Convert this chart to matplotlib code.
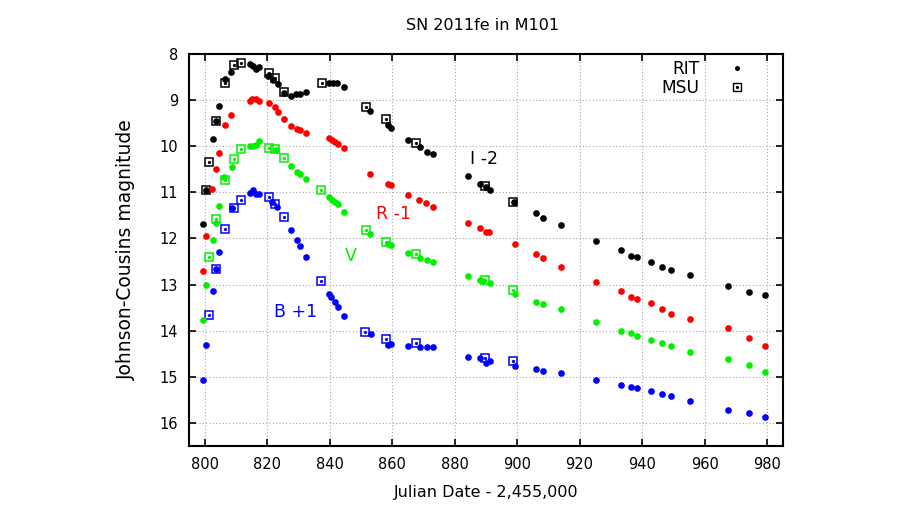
"""
SN 2011fe in M101 - curve di luce BVRI (RIT e MSU)
"""

import numpy as np
import matplotlib
matplotlib.use("Agg")
import matplotlib.pyplot as plt
from matplotlib.lines import Line2D
from matplotlib.legend_handler import HandlerTuple

plt.rcParams["font.family"] = ["DejaVu Sans"]

# --- RIT (punti), magnitudini gia' traslate come nel grafico ---
rit_i_jd = [799.5, 800.5, 802.6, 803.5, 804.6, 806.6, 808.5, 814.4, 815.4, 816.4,
            817.4, 820.4, 822.0, 823.5, 825.5, 827.7, 829.3, 830.6, 832.6, 839.8,
            841.1, 842.4, 844.7, 853.0, 858.7, 859.7, 865.0, 868.8, 871.1, 873.0,
            884.2, 888.1, 889.9, 891.2, 899.0, 906.2, 908.2, 914.2, 925.3, 933.3,
            936.3, 938.4, 943.0, 946.3, 949.3, 955.3, 967.4, 974.2, 979.2]
rit_i_mag = [11.68, 10.95, 9.85, 9.45, 9.12, 8.54, 8.38, 8.22, 8.27, 8.33,
             8.28, 8.47, 8.56, 8.65, 8.84, 8.91, 8.87, 8.87, 8.83, 8.64,
             8.62, 8.64, 8.72, 9.23, 9.54, 9.61, 9.86, 10.01, 10.12, 10.17,
             10.65, 10.81, 10.88, 10.94, 11.21, 11.45, 11.56, 11.71, 12.06, 12.24,
             12.37, 12.41, 12.50, 12.61, 12.69, 12.79, 13.02, 13.16, 13.23]

rit_r_jd = [799.5, 800.5, 802.4, 803.5, 804.5, 806.5, 808.5, 814.5, 815.3, 816.3,
            817.4, 820.5, 822.5, 823.6, 825.5, 827.6, 829.5, 830.6, 832.5, 839.7,
            840.8, 841.6, 842.6, 844.7, 853.0, 858.6, 859.6, 865.0, 868.7, 871.0,
            873.0, 884.2, 888.1, 889.9, 891.1, 899.2, 906.2, 908.2, 914.2, 925.3,
            933.3, 936.3, 938.4, 943.0, 946.3, 949.3, 955.3, 967.4, 974.2, 979.2]
rit_r_mag = [12.71, 11.94, 10.93, 10.49, 10.15, 9.55, 9.32, 9.01, 8.98, 8.98,
             9.01, 9.06, 9.16, 9.26, 9.41, 9.56, 9.63, 9.64, 9.71, 9.82,
             9.86, 9.90, 9.95, 10.03, 10.60, 10.83, 10.85, 11.06, 11.17, 11.24,
             11.32, 11.66, 11.78, 11.87, 11.87, 12.13, 12.34, 12.43, 12.61, 12.94,
             13.13, 13.27, 13.31, 13.39, 13.52, 13.63, 13.75, 13.94, 14.16, 14.33]

rit_v_jd = [799.5, 800.5, 802.6, 803.5, 804.5, 806.3, 808.7, 814.5, 815.6, 816.6,
            817.5, 822.8, 827.6, 829.5, 830.6, 832.5, 839.7, 840.8, 841.6, 842.6,
            844.7, 853.0, 858.7, 859.7, 865.0, 868.8, 871.1, 873.0, 884.2, 888.1,
            889.1, 891.2, 899.2, 906.2, 908.2, 914.2, 925.3, 933.3, 936.3, 938.4,
            943.0, 946.3, 949.3, 955.3, 967.4, 974.2, 979.2]
rit_v_mag = [13.77, 13.01, 12.03, 11.66, 11.29, 10.66, 10.45, 9.99, 9.99, 9.98,
             9.88, 10.09, 10.43, 10.56, 10.61, 10.70, 11.10, 11.16, 11.21, 11.26,
             11.42, 11.91, 12.13, 12.14, 12.32, 12.43, 12.46, 12.50, 12.81, 12.90,
             12.92, 12.97, 13.21, 13.38, 13.42, 13.54, 13.81, 14.00, 14.04, 14.12,
             14.20, 14.27, 14.33, 14.46, 14.62, 14.75, 14.89]

rit_b_jd = [799.5, 800.5, 802.6, 803.5, 804.5, 808.7, 814.5, 815.6, 816.5, 817.5,
            821.7, 823.1, 827.6, 829.5, 830.6, 832.5, 839.7, 840.5, 841.6, 842.6,
            844.6, 853.1, 858.6, 859.6, 865.0, 868.8, 871.1, 873.0, 884.2, 888.1,
            890.2, 891.2, 899.2, 906.2, 908.2, 914.2, 925.3, 933.3, 936.3, 938.4,
            943.0, 946.3, 949.3, 955.3, 967.4, 974.2, 979.2]
rit_b_mag = [15.07, 14.31, 13.13, 12.67, 12.29, 11.34, 11.02, 10.95, 11.04, 11.04,
             11.21, 11.32, 11.81, 12.03, 12.16, 12.41, 13.21, 13.28, 13.38, 13.48,
             13.68, 14.08, 14.31, 14.28, 14.33, 14.36, 14.36, 14.36, 14.57, 14.59,
             14.69, 14.65, 14.76, 14.83, 14.87, 14.91, 15.07, 15.18, 15.21, 15.25,
             15.30, 15.38, 15.41, 15.52, 15.71, 15.79, 15.88]

# --- MSU (quadrati) ---
msu_i_jd = [800.5, 801.5, 803.6, 806.6, 809.5, 811.6, 820.5, 822.6, 825.4, 837.5,
            851.5, 857.9, 867.6, 889.7, 898.8]
msu_i_mag = [10.95, 10.34, 9.45, 8.64, 8.24, 8.20, 8.41, 8.53, 8.83, 8.64,
             9.14, 9.40, 9.94, 10.86, 11.20]

msu_v_jd = [801.5, 803.5, 806.5, 809.5, 811.6, 820.5, 822.6, 825.5, 837.4, 851.5,
            857.9, 867.6, 889.7, 898.8]
msu_v_mag = [12.40, 11.58, 10.73, 10.27, 10.05, 10.04, 10.06, 10.25, 10.95, 11.81,
             12.08, 12.34, 12.89, 13.12]

msu_b_jd = [801.5, 803.5, 806.5, 809.5, 811.6, 820.6, 822.6, 825.5, 837.4, 851.4,
            857.9, 867.6, 889.7, 898.7]
msu_b_mag = [13.65, 12.67, 11.79, 11.34, 11.16, 11.11, 11.25, 11.53, 12.92, 14.02,
             14.17, 14.26, 14.60, 14.66]

# etichette delle bande (testo, jd, mag)
etichette = [("I -2", 889.3, 10.28), ("R -1", 860.4, 11.48),
             ("V", 846.9, 12.37), ("B +1", 829.0, 13.60)]

COL_I, COL_R, COL_V, COL_B = "#000000", "#ff0000", "#00f000", "#0000ff"

BANDE = [
    (COL_I, rit_i_jd, rit_i_mag, msu_i_jd, msu_i_mag),
    (COL_R, rit_r_jd, rit_r_mag, [], []),
    (COL_V, rit_v_jd, rit_v_mag, msu_v_jd, msu_v_mag),
    (COL_B, rit_b_jd, rit_b_mag, msu_b_jd, msu_b_mag),
]
COL_ETICHETTE = [COL_I, COL_R, COL_V, COL_B]

fig = plt.figure(figsize=(9, 5.2), dpi=100)
fig.patch.set_facecolor("white")
ax = fig.add_axes([0.21, 0.1423, 0.6597, 0.7539])

for col, rjd, rmag, mjd, mmag in BANDE:
    if mjd:
        ax.plot(mjd, mmag, ls="none", marker="s", ms=5.6, mfc="none",
                mec=col, mew=1.1, zorder=3)
        ax.plot(mjd, mmag, ls="none", marker="o", ms=1.3, color=col, zorder=3)
    ax.plot(rjd, rmag, ls="none", marker="o", ms=4.8, color=col, mew=0, zorder=4)

for (txt, x, y), col in zip(etichette, COL_ETICHETTE):
    ax.text(x, y, txt, color=col, fontsize=12.5, ha="center", va="center")

ax.set_xlim(795, 985)
ax.set_ylim(16.5, 8)
ax.set_xticks(np.arange(800, 981, 20))
ax.set_yticks(np.arange(8, 17, 1))
ax.grid(True, color="#a8a8a8", ls=(0, (1, 2)), lw=0.8)
ax.tick_params(direction="in", length=5, width=1.2, top=True, right=True,
               labelsize=10.5, pad=8, colors="#000000")
for sp in ax.spines.values():
    sp.set_linewidth(1.5)

ax.set_xlabel("Julian Date - 2,455,000", fontsize=11.5)
ax.set_ylabel("Johnson-Cousins magnitude", fontsize=13.5)
ax.xaxis.set_label_coords(0.5, -0.1)
ax.yaxis.set_label_coords(-0.09, 0.5)

fig.text(0.536, 0.95, "SN 2011fe in M101", fontsize=11.5, ha="center", va="center")

h_rit = Line2D([], [], ls="none", marker="o", ms=3.6, color="k", mew=0)
h_sq = Line2D([], [], ls="none", marker="s", ms=5.2, mfc="none", mec="k", mew=1.0)
h_dot = Line2D([], [], ls="none", marker="o", ms=1.3, color="k")
ax.legend([h_rit, (h_sq, h_dot)], ["RIT", "MSU"],
          handler_map={tuple: HandlerTuple(ndivide=1, pad=0)},
          loc="upper right", bbox_to_anchor=(0.9375, 0.985),
          markerfirst=False, frameon=False, fontsize=12.3,
          handlelength=1.0, handletextpad=1.7, labelspacing=0.05,
          borderpad=0, borderaxespad=0)

fig.savefig("out.png", dpi=100)
